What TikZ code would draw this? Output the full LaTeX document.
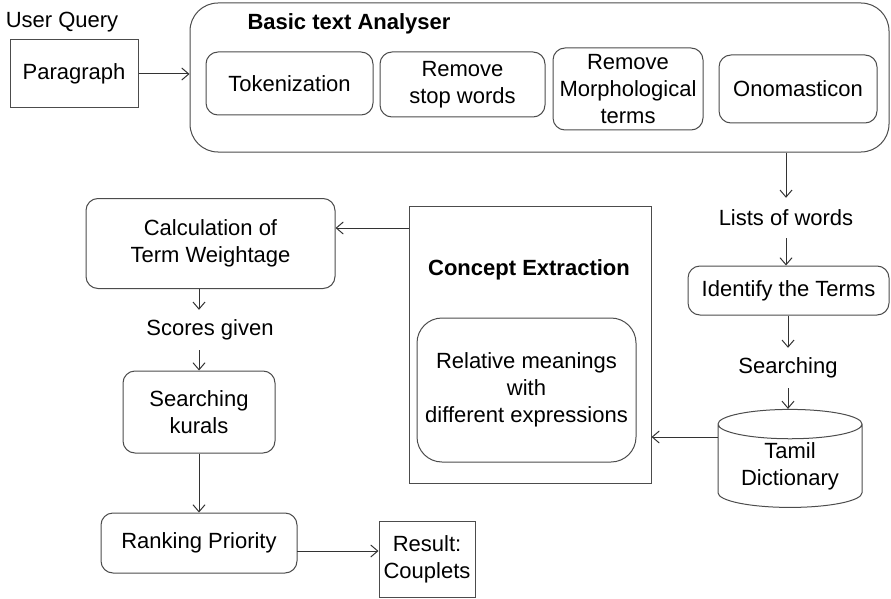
\documentclass[tikz,border=0pt]{standalone}
\usepackage{fontspec}
\setmainfont{Liberation Sans}
\usetikzlibrary{arrows.meta,shapes.geometric}

\begin{document}
\begin{tikzpicture}[x=1pt,y=-1pt,
	every node/.style={font=\fontsize{22}{27}\selectfont, align=center, inner sep=0pt},
	ttl/.style={font=\fontsize{22}{27}\selectfont\bfseries},
	lbl/.style={minimum height=40},
	rbox/.style={draw=black!70, line width=1pt, rounded corners=12pt},
	sbox/.style={draw=black!70, line width=1pt},
	arr/.style={draw=black!80, line width=1pt, -{Straight Barb[length=7pt,width=12pt]}}]
	\useasboundingbox (0,0) rectangle (891,599);

	% user query
	\node (uq) at (62,22) {User Query};
	\node[sbox, minimum width=128, minimum height=68] (para) at (74,74) {Paragraph};

	% basic text analyser
	\node[rbox, rounded corners=28pt, minimum width=699, minimum height=149] (bta) at (539.5,77.5) {};
	\node[ttl] (btatitle) at (349,24) {Basic text Analyser};
	\node[rbox, minimum width=167, minimum height=63] (tok) at (289.5,83.5) {Tokenization};
	\node[rbox, minimum width=165, minimum height=65] (stop) at (462.5,84.5) {Remove\\stop words};
	\node[rbox, minimum width=150, minimum height=82] (morph) at (628,89) {Remove\\Morphological\\terms};
	\node[rbox, minimum width=158, minimum height=68] (onom) at (798,89) {Onomasticon};

	% right column
	\node[lbl] (lists) at (786,218) {Lists of words};
	\node[rbox, minimum width=201, minimum height=49] (ident) at (788.5,290.5) {Identify the Terms};
	\node[lbl] (srch) at (788,368) {Searching};
	\node[draw=black!70, line width=1pt, cylinder, shape border rotate=90, aspect=0.3,
		minimum width=144, minimum height=98] (dict) at (790,466) {Tamil\\Dictionary};

	% concept extraction
	\node[sbox, minimum width=242, minimum height=277] (concept) at (530,344.5) {};
	\node[ttl] (ctitle) at (529,270) {Concept Extraction};
	\node[rbox, rounded corners=25pt, minimum width=219, minimum height=144] (rel) at (526.5,390) {Relative meanings\\with\\different expressions};

	% left column
	\node[rbox, minimum width=249, minimum height=90] (calc) at (210.5,243.5) {Calculation of\\Term Weightage};
	\node[lbl] (score) at (210,330) {Scores given};
	\node[rbox, minimum width=152, minimum height=82] (kural) at (199,412) {Searching\\kurals};
	\node[rbox, minimum width=196, minimum height=60] (rank) at (199,543) {Ranking Priority};
	\node[sbox, minimum width=96, minimum height=76] (res) at (427,559) {Result:\\Couplets};

	\coordinate (cc) at (409,228);
	\coordinate (dc) at (718,437);
	\coordinate (rr) at (297,551);

	\draw[arr] (para.east) -- (bta.west |- para.east);
	\draw[arr] (bta.south -| lists) -- (lists.north);
	\draw[arr] (lists.south) -- (ident.north -| lists);
	\draw[arr] (ident.south -| srch) -- (srch.north);
	\draw[arr] (srch.south) -- (dict.north -| srch);
	\draw[arr] (dc) -- (concept.east |- dc);
	\draw[arr] (cc) -- (calc.east |- cc);
	\draw[arr] (calc.south -| kural) -- (score.north -| kural);
	\draw[arr] (score.south -| kural) -- (kural.north);
	\draw[arr] (kural.south) -- (rank.north);
	\draw[arr] (rr) -- (res.west |- rr);
\end{tikzpicture}
\end{document}
